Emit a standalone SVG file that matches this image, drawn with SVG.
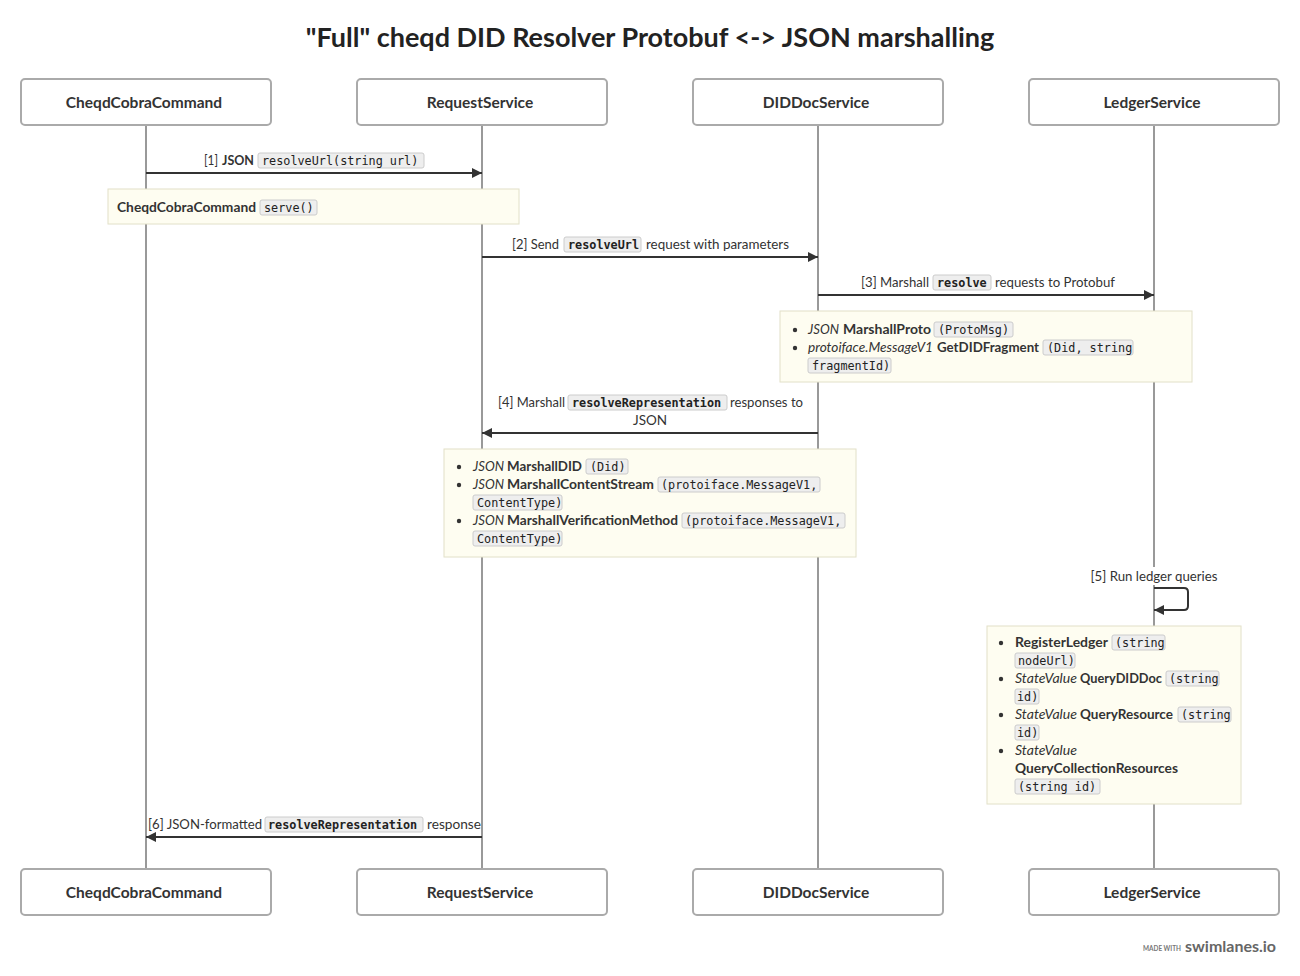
<svg xmlns="http://www.w3.org/2000/svg" width="1300" height="976" viewBox="0 0 1300 976">
<defs>
<style>
.t{font-family:Lato,"Liberation Sans",sans-serif;font-size:13.5px;fill:#333}
.b{font-weight:bold}
.i{font-style:italic}
.title{font-family:Lato,"Liberation Sans",sans-serif;font-size:27px;font-weight:bold;fill:#222}
.hd{font-family:Lato,"Liberation Sans",sans-serif;font-size:15.5px;font-weight:bold;fill:#333}
.box{fill:#fff;stroke:#aaa;stroke-width:2}
.life{stroke:#999;stroke-width:2}
.msg{stroke:#333;stroke-width:2;fill:none}
.note{fill:#fefdf1;stroke:#e2e0c8;stroke-width:1}
.cb{fill:#eee;stroke:#ccc;stroke-width:1}
.c{font-family:"DejaVu Sans Mono","Liberation Mono",monospace;font-size:11.8px;fill:#222}
.dot{fill:#333}
.ft{font-family:Lato,"Liberation Sans",sans-serif;font-weight:bold}
</style>
<marker id="ah" viewBox="0 0 10 10" refX="10" refY="5" markerWidth="10" markerHeight="10" markerUnits="userSpaceOnUse" orient="auto">
<path d="M0,0 L10,5 L0,10 z" fill="#333"/>
</marker>
</defs>
<rect width="1300" height="976" fill="#fff"/>
<text class="title" x="650" y="47" text-anchor="middle">"Full" cheqd DID Resolver Protobuf &lt;-&gt; JSON marshalling</text>

<g id="lifelines">
<line class="life" x1="146" y1="125" x2="146" y2="869"/>
<line class="life" x1="482" y1="125" x2="482" y2="869"/>
<line class="life" x1="818" y1="125" x2="818" y2="869"/>
<line class="life" x1="1154" y1="125" x2="1154" y2="869"/>
</g>

<g id="CheqdCobraCommand">
<rect class="box" x="21" y="79" width="250" height="46" rx="4"/>
<text class="hd" x="144" y="107.5" text-anchor="middle">CheqdCobraCommand</text>
<rect class="box" x="21" y="869" width="250" height="46" rx="4"/>
<text class="hd" x="144" y="897.5" text-anchor="middle">CheqdCobraCommand</text>
</g>
<g id="RequestService">
<rect class="box" x="357" y="79" width="250" height="46" rx="4"/>
<text class="hd" x="480" y="107.5" text-anchor="middle">RequestService</text>
<rect class="box" x="357" y="869" width="250" height="46" rx="4"/>
<text class="hd" x="480" y="897.5" text-anchor="middle">RequestService</text>
</g>
<g id="DIDDocService">
<rect class="box" x="693" y="79" width="250" height="46" rx="4"/>
<text class="hd" x="816" y="107.5" text-anchor="middle">DIDDocService</text>
<rect class="box" x="693" y="869" width="250" height="46" rx="4"/>
<text class="hd" x="816" y="897.5" text-anchor="middle">DIDDocService</text>
</g>
<g id="LedgerService">
<rect class="box" x="1029" y="79" width="250" height="46" rx="4"/>
<text class="hd" x="1152" y="107.5" text-anchor="middle">LedgerService</text>
<rect class="box" x="1029" y="869" width="250" height="46" rx="4"/>
<text class="hd" x="1152" y="897.5" text-anchor="middle">LedgerService</text>
</g>

<g id="connectors">
<line class="msg" x1="146" y1="173" x2="482" y2="173" marker-end="url(#ah)"/>
<line class="msg" x1="482" y1="257" x2="818" y2="257" marker-end="url(#ah)"/>
<line class="msg" x1="818" y1="295" x2="1154" y2="295" marker-end="url(#ah)"/>
<line class="msg" x1="818" y1="433" x2="482" y2="433" marker-end="url(#ah)"/>
<path class="msg" d="M1154,588 H1184 Q1188,588 1188,592 V606 Q1188,610 1184,610 H1154" marker-end="url(#ah)"/>
<line class="msg" x1="482" y1="837" x2="146" y2="837" marker-end="url(#ah)"/>
</g>

<g id="msg1">
<text class="t" x="204" y="165" textLength="14" lengthAdjust="spacingAndGlyphs">[1]</text>
<text class="t b" x="222" y="165" textLength="32" lengthAdjust="spacingAndGlyphs">JSON</text>
<rect class="cb" x="258" y="153" width="166" height="15" rx="2"/>
<text class="c" x="262" y="164.5">resolveUrl(string url)</text>
</g>
<g id="note1">
<rect class="note" x="108" y="189" width="411" height="35"/>
<text class="t b" x="117" y="212" textLength="139" lengthAdjust="spacingAndGlyphs">CheqdCobraCommand</text>
<rect class="cb" x="260" y="200" width="57" height="15" rx="2"/>
<text class="c" x="264" y="211.5">serve()</text>
</g>
<g id="msg2">
<text class="t" x="512" y="249" textLength="47" lengthAdjust="spacingAndGlyphs">[2] Send</text>
<rect class="cb" x="564" y="237" width="77" height="15" rx="2"/>
<text class="c b" x="568" y="248.5">resolveUrl</text>
<text class="t" x="646" y="249" textLength="143" lengthAdjust="spacingAndGlyphs">request with parameters</text>
</g>
<g id="msg3">
<text class="t" x="861" y="287" textLength="68" lengthAdjust="spacingAndGlyphs">[3] Marshall</text>
<rect class="cb" x="933" y="275" width="58" height="15" rx="2"/>
<text class="c b" x="937" y="286.5">resolve</text>
<text class="t" x="995" y="287" textLength="120" lengthAdjust="spacingAndGlyphs">requests to Protobuf</text>
</g>
<g id="note2">
<rect class="note" x="780" y="311" width="412" height="71"/>
<circle class="dot" cx="795" cy="330" r="2.2"/>
<circle class="dot" cx="795" cy="348" r="2.2"/>
<text class="t i" x="808" y="334" textLength="31" lengthAdjust="spacingAndGlyphs">JSON</text>
<text class="t b" x="843" y="334" textLength="88" lengthAdjust="spacingAndGlyphs">MarshallProto</text>
<rect class="cb" x="934" y="322" width="79" height="15" rx="2"/>
<text class="c" x="938" y="333.5">(ProtoMsg)</text>
<text class="t i" x="808" y="352" textLength="125" lengthAdjust="spacingAndGlyphs">protoiface.MessageV1</text>
<text class="t b" x="937" y="352" textLength="102" lengthAdjust="spacingAndGlyphs">GetDIDFragment</text>
<rect class="cb" x="1043" y="340" width="90" height="15" rx="2"/>
<text class="c" x="1047" y="351.5">(Did, string</text>
<rect class="cb" x="808" y="358" width="83" height="15" rx="2"/>
<text class="c" x="812" y="369.5">fragmentId)</text>
</g>
<g id="msg4">
<text class="t" x="498" y="407" textLength="67" lengthAdjust="spacingAndGlyphs">[4] Marshall</text>
<rect class="cb" x="568" y="395" width="159" height="15" rx="2"/>
<text class="c b" x="572" y="406.5">resolveRepresentation</text>
<text class="t" x="730" y="407" textLength="73" lengthAdjust="spacingAndGlyphs">responses to</text>
<text class="t" x="650" y="425" text-anchor="middle">JSON</text>
</g>
<g id="note3">
<rect class="note" x="444" y="449" width="412" height="108"/>
<circle class="dot" cx="459" cy="467" r="2.2"/>
<circle class="dot" cx="459" cy="485" r="2.2"/>
<circle class="dot" cx="459" cy="521" r="2.2"/>
<text class="t i" x="473" y="471" textLength="31" lengthAdjust="spacingAndGlyphs">JSON</text>
<text class="t b" x="507" y="471" textLength="75" lengthAdjust="spacingAndGlyphs">MarshallDID</text>
<rect class="cb" x="586" y="459" width="42" height="15" rx="2"/>
<text class="c" x="590" y="470.5">(Did)</text>
<text class="t i" x="473" y="489" textLength="31" lengthAdjust="spacingAndGlyphs">JSON</text>
<text class="t b" x="507" y="489" textLength="147" lengthAdjust="spacingAndGlyphs">MarshallContentStream</text>
<rect class="cb" x="658" y="477" width="162" height="15" rx="2"/>
<text class="c" x="661" y="488.5">(protoiface.MessageV1,</text>
<rect class="cb" x="473" y="495" width="89" height="15" rx="2"/>
<text class="c" x="477" y="506.5">ContentType)</text>
<text class="t i" x="473" y="525" textLength="31" lengthAdjust="spacingAndGlyphs">JSON</text>
<text class="t b" x="507" y="525" textLength="171" lengthAdjust="spacingAndGlyphs">MarshallVerificationMethod</text>
<rect class="cb" x="682" y="513" width="163" height="15" rx="2"/>
<text class="c" x="685" y="524.5">(protoiface.MessageV1,</text>
<rect class="cb" x="473" y="531" width="89" height="15" rx="2"/>
<text class="c" x="477" y="542.5">ContentType)</text>
</g>
<g id="msg5">
<rect x="1089" y="567" width="131" height="18" fill="#fff"/>
<text class="t" x="1154" y="581" text-anchor="middle" textLength="127" lengthAdjust="spacingAndGlyphs">[5] Run ledger queries</text>
</g>
<g id="note4">
<rect class="note" x="987" y="626" width="254" height="178"/>
<circle class="dot" cx="1001" cy="643" r="2.2"/>
<circle class="dot" cx="1001" cy="679" r="2.2"/>
<circle class="dot" cx="1001" cy="715" r="2.2"/>
<circle class="dot" cx="1001" cy="751" r="2.2"/>
<text class="t b" x="1015" y="647" textLength="93" lengthAdjust="spacingAndGlyphs">RegisterLedger</text>
<rect class="cb" x="1112" y="635" width="53" height="15" rx="2"/>
<text class="c" x="1115" y="646.5">(string</text>
<rect class="cb" x="1015" y="653" width="60" height="15" rx="2"/>
<text class="c" x="1018" y="664.5">nodeUrl)</text>
<text class="t i" x="1015" y="683" textLength="62" lengthAdjust="spacingAndGlyphs">StateValue</text>
<text class="t b" x="1080" y="683" textLength="82" lengthAdjust="spacingAndGlyphs">QueryDIDDoc</text>
<rect class="cb" x="1166" y="671" width="53" height="15" rx="2"/>
<text class="c" x="1169" y="682.5">(string</text>
<rect class="cb" x="1015" y="689" width="24" height="15" rx="2"/>
<text class="c" x="1017" y="700.5">id)</text>
<text class="t i" x="1015" y="719" textLength="62" lengthAdjust="spacingAndGlyphs">StateValue</text>
<text class="t b" x="1080" y="719" textLength="93" lengthAdjust="spacingAndGlyphs">QueryResource</text>
<rect class="cb" x="1178" y="707" width="53" height="15" rx="2"/>
<text class="c" x="1181" y="718.5">(string</text>
<rect class="cb" x="1015" y="725" width="24" height="15" rx="2"/>
<text class="c" x="1017" y="736.5">id)</text>
<text class="t i" x="1015" y="755" textLength="62" lengthAdjust="spacingAndGlyphs">StateValue</text>
<text class="t b" x="1015" y="773" textLength="163" lengthAdjust="spacingAndGlyphs">QueryCollectionResources</text>
<rect class="cb" x="1015" y="779" width="85" height="15" rx="2"/>
<text class="c" x="1018" y="790.5">(string id)</text>
</g>
<g id="msg6">
<text class="t" x="148" y="829" textLength="114" lengthAdjust="spacingAndGlyphs">[6] JSON-formatted</text>
<rect class="cb" x="265" y="817" width="158" height="15" rx="2"/>
<text class="c b" x="268" y="828.5">resolveRepresentation</text>
<text class="t" x="427" y="829" textLength="54" lengthAdjust="spacingAndGlyphs">response</text>
</g>

<g id="footer">
<text class="ft" x="1143" y="951" font-size="7" fill="#777" textLength="38" lengthAdjust="spacingAndGlyphs">MADE WITH</text>
<text class="ft" x="1185" y="952" font-size="16" fill="#666" textLength="91" lengthAdjust="spacingAndGlyphs">swimlanes.io</text>
</g>
</svg>
